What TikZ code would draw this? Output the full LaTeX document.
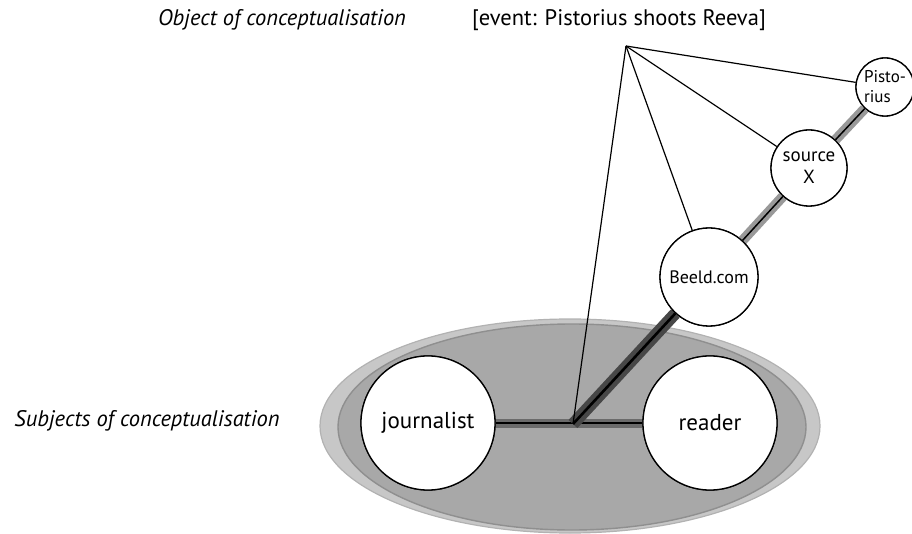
\documentclass[tikz,border=0pt]{standalone}
\usepackage{fontspec}
\setmainfont{PT Sans}
\begin{document}
\begin{tikzpicture}[x=1pt,y=-1pt,
  actor/.style={circle,draw=black,line width=1.3pt,fill=white,inner sep=0pt,align=center},
  bigactor/.style={actor,minimum size=134pt,font=\fontsize{23}{26}\selectfont},
  beeldactor/.style={actor,minimum size=98pt,font=\fontsize{18}{21}\selectfont},
  srcactor/.style={actor,minimum size=76pt,font=\fontsize{19}{22}\selectfont},
  pisactor/.style={actor,minimum size=58pt,align=left,font=\fontsize{17}{20}\selectfont},
  thin/.style={draw=black,line width=1.2pt},
  band/.style={line width=10pt,draw=black!40},
  darkband/.style={line width=12pt,draw=black!72},
  core/.style={line width=1.8pt,draw=black},
  label/.style={font=\fontsize{22.5}{26}\selectfont}]
\useasboundingbox (0,0) rectangle (912,534);
% subjects' ground
\fill[fill=black!22,draw=black!30,line width=1.2pt] (570,426) ellipse [x radius=250,y radius=107];
\fill[fill=black!34,draw=black!44,line width=1.4pt] (572,427) ellipse [x radius=234,y radius=103];
% positions
\coordinate (apex) at (626,46);
\coordinate (c) at (573,424);
\node[bigactor] (jour) at (428,423) {journalist};
\node[bigactor] (read) at (710,423) {reader};
\node[beeldactor] (beeld) at (709,277) {Beeld.com};
\node[srcactor] (src) at (809,168) {source\\X};
\node[pisactor] (pis) at (885,87) {Pisto-\\rius};
% chains of transmission
\path[band,draw=black!58,line width=9pt] (jour.east) -- (read.west);
\path[core,line width=2pt] (jour.east) -- (read.west);
\path[darkband] (c) -- (beeld);
\path[core,line width=2.6pt] (c) -- (beeld);
\path[band] (beeld) -- (src);
\path[core,line width=1.5pt] (beeld) -- (src);
\path[band] (src) -- (pis);
\path[core,line width=1.5pt] (src) -- (pis);
% circles drawn again over the bands
\node[bigactor] at (jour) {journalist};
\node[bigactor] at (read) {reader};
\node[beeldactor] at (beeld) {Beeld.com};
\node[srcactor] at (src) {source\\X};
\node[pisactor] at (pis) {Pisto-\\rius};
% lines of conceptualisation
\draw[thin] (apex) -- (pis);
\draw[thin] (apex) -- (src);
\draw[thin] (apex) -- (beeld);
\draw[thin] (apex) -- (c);
% labels
\node[label,font=\fontsize{22.5}{26}\selectfont\itshape] (obj) at (282,20) {Object of conceptualisation};
\node[label] (event) at (619,20) {[event: Pistorius shoots Reeva]};
\node[label,font=\fontsize{22.5}{26}\selectfont\itshape] (subj) at (147,421) {Subjects of conceptualisation};
\end{tikzpicture}
\end{document}
